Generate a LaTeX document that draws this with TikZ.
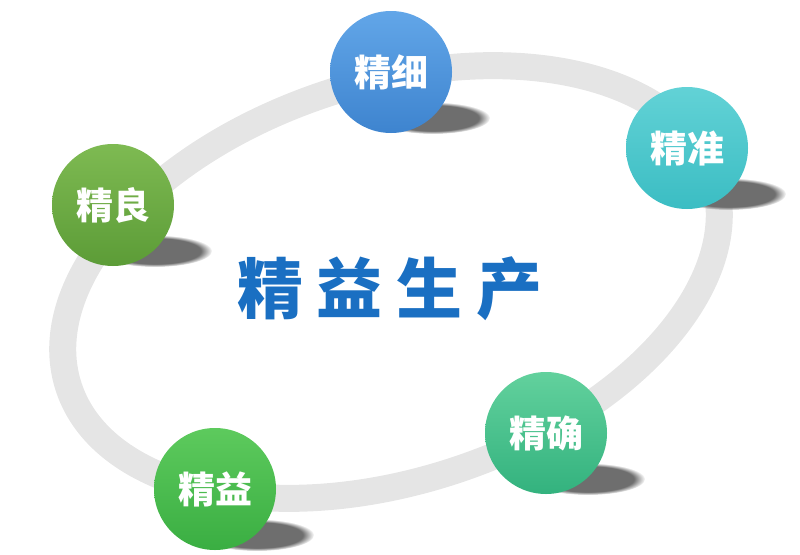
\documentclass[tikz,border=0pt]{standalone}
\usepackage{fontspec}
\newfontfamily\cjk{Noto Sans CJK SC}
\usetikzlibrary{fadings}
\definecolor{ringc}{HTML}{E5E5E5}
\definecolor{shadc}{HTML}{6E6E6E}
\definecolor{titlec}{HTML}{1A6FC2}
\definecolor{bAtop}{HTML}{62A6E8}\definecolor{bAbot}{HTML}{3E84CF}
\definecolor{bBtop}{HTML}{62D2D6}\definecolor{bBbot}{HTML}{3BBDC3}
\definecolor{bCtop}{HTML}{7EBA52}\definecolor{bCbot}{HTML}{5C9C37}
\definecolor{bDtop}{HTML}{62D19D}\definecolor{bDbot}{HTML}{33B27E}
\definecolor{bEtop}{HTML}{5DCA5D}\definecolor{bEbot}{HTML}{3AAE42}
\tikzset{
  ringline/.style={draw=ringc, line width=27pt},
  ballshadow/.style={fill=shadc, path fading=circle with fuzzy edge 20 percent},
  ball/.style={circle, minimum size=122pt, inner sep=0pt, text=white,
    font=\cjk\bfseries\fontsize{37}{37}\selectfont},
  title/.style={text=titlec, inner sep=0pt, font=\cjk\bfseries\fontsize{66}{66}\selectfont}
}
\begin{document}
\begin{tikzpicture}[x=1pt,y=-1pt]
\useasboundingbox (0,0) rectangle (800,554);
% ring
\coordinate (rc) at (391,282);
\draw[ringline] (rc) ellipse [x radius=339, y radius=199, rotate=18];
% shadows
\foreach \cx/\cy in {391/72, 687/148, 113/205, 546/433, 215/489}
  \fill[ballshadow] (\cx+42,\cy+46) ellipse [x radius=57, y radius=16];
% balls
\node[ball, top color=bAtop, bottom color=bAbot] (xi) at (391,72) {精细};
\node[ball, top color=bBtop, bottom color=bBbot] (zhun) at (687,148) {精准};
\node[ball, top color=bCtop, bottom color=bCbot] (liang) at (113,205) {精良};
\node[ball, top color=bDtop, bottom color=bDbot] (que) at (546,433) {精确};
\node[ball, top color=bEtop, bottom color=bEbot] (yi) at (215,489) {精益};
% title
\node[title] (ttl) at (390,289) {精\hspace{14pt}益\hspace{14pt}生\hspace{14pt}产};
\end{tikzpicture}
\end{document}
